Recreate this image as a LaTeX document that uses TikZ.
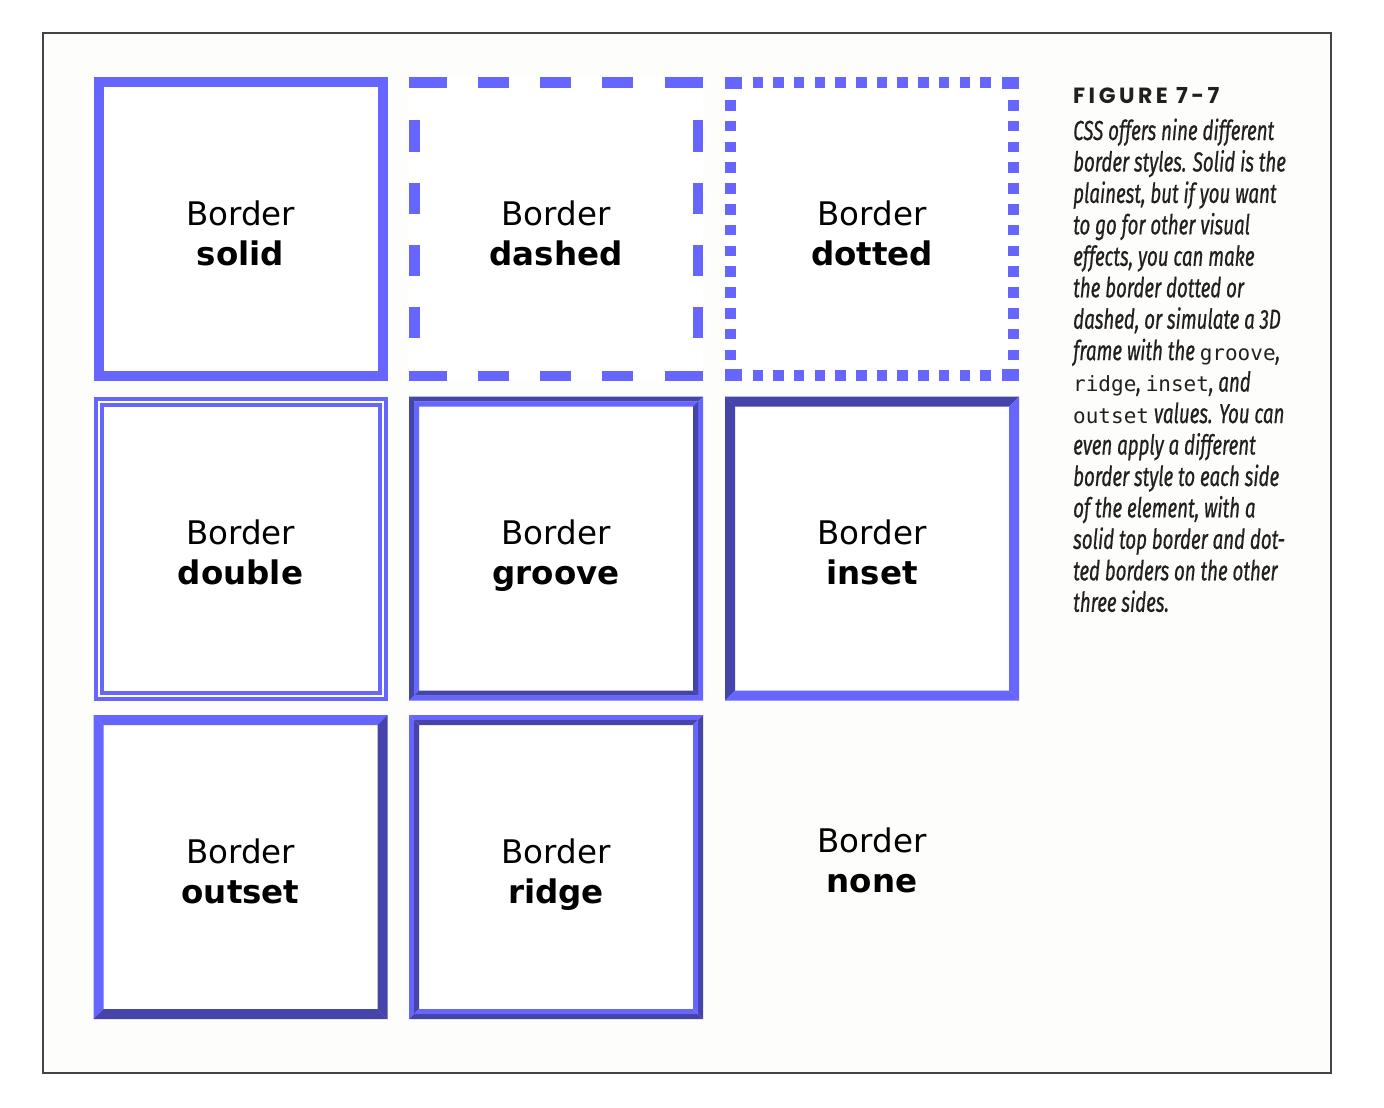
\documentclass[tikz,border=0pt]{standalone}
\usepackage{fontspec}
\setmainfont{DejaVu Sans}
\newfontfamily\capfont{Fira Sans}[FakeStretch=0.68,FakeBold=0.6]
\newfontfamily\figfont{Poppins}[LetterSpace=16]
\newfontfamily\cmono{DejaVu Sans Mono}
\usetikzlibrary{calc}
\definecolor{bl}{RGB}{102,102,255}
\definecolor{bd}{RGB}{68,68,170}
\definecolor{paper}{RGB}{253,253,251}
\definecolor{framec}{RGB}{68,68,68}
\definecolor{ink}{RGB}{35,31,32}
\newcommand\mw[1]{{\cmono\upshape\fontsize{21}{31.45}\selectfont #1}}
\newcommand\bevbox[6]{%
  \fill[#5] (#1,#1) -- ({#3-#1},#1) -- ({#3-#1-#2},{#1+#2}) -- ({#1+#2},{#1+#2}) -- cycle;
  \fill[#5] (#1,#1) -- ({#1+#2},{#1+#2}) -- ({#1+#2},{#4-#1-#2}) -- (#1,{#4-#1}) -- cycle;
  \fill[#6] (#1,{#4-#1}) -- ({#3-#1},{#4-#1}) -- ({#3-#1-#2},{#4-#1-#2}) -- ({#1+#2},{#4-#1-#2}) -- cycle;
  \fill[#6] ({#3-#1},#1) -- ({#3-#1},{#4-#1}) -- ({#3-#1-#2},{#4-#1-#2}) -- ({#3-#1-#2},{#1+#2}) -- cycle;
}
\begin{document}
\begin{tikzpicture}[x=1pt,y=-1pt,
  cell/.style={rectangle, minimum width=294pt, minimum height=304pt, inner sep=0pt, outer sep=0pt},
  wcell/.style={cell, fill=white},
  word/.style={anchor=base, inner sep=0pt, font=\fontsize{32.5}{40}\selectfont},
  bword/.style={anchor=base, inner sep=0pt, font=\fontsize{32.5}{40}\selectfont\bfseries},
  capline/.style={anchor=base west, inner sep=0pt, text=ink, font=\capfont\itshape\fontsize{27.5}{31.45}\selectfont},
]
\useasboundingbox (0,0) rectangle (1384,1108);
\fill[white] (0,0) rectangle (1384,1108);
\node[draw=framec, line width=2pt, fill=paper, minimum width=1288pt, minimum height=1040pt, inner sep=0pt, anchor=north west] (frame) at (42,32) {};

% cells
\node[wcell] (solid)  at (240.5,229) {};
\node[wcell] (dashed) at (556,229) {};
\node[wcell] (dotted) at (872,229) {};
\node[wcell] (double) at (240.5,548.5) {};
\node[wcell] (groove) at (556,548.5) {};
\node[wcell] (inset)  at (872,548.5) {};
\node[wcell] (outset) at (240.5,867) {};
\node[wcell] (ridge)  at (556,867) {};
\node[cell] (none)   at (872,867) {};

% solid
\begin{scope}[shift={(solid.north west)}]
  \draw[bl, line width=10pt] (5,5) rectangle (289,299);
\end{scope}
% dashed
\begin{scope}[shift={(dashed.north west)}]
  \foreach \a/\b in {0/38,69/100,131/162,193/224,256/294}{
    \fill[bl] (\a,0) rectangle (\b,10.5);
    \fill[bl] (\a,293.5) rectangle (\b,304);
  }
  \foreach \a/\b in {43/75,106/137,168/199,230/261}{
    \fill[bl] (0,\a) rectangle (10.5,\b);
    \fill[bl] (283.5,\a) rectangle (294,\b);
  }
\end{scope}
% dotted
\begin{scope}[shift={(dotted.north west)}]
  \fill[bl] (0,0) rectangle (17,12);
  \fill[bl] (277,0) rectangle (294,12);
  \fill[bl] (0,292) rectangle (17,304);
  \fill[bl] (277,292) rectangle (294,304);
  \foreach \k in {0,...,11}{
    \fill[bl] ({27.5+20.7*\k},0) rectangle ({38+20.7*\k},11);
    \fill[bl] ({27.5+20.7*\k},293) rectangle ({38+20.7*\k},304);
  }
  \foreach \k in {0,...,12}{
    \fill[bl] (0,{23+20.8*\k}) rectangle (11,{33.5+20.8*\k});
    \fill[bl] (283,{23+20.8*\k}) rectangle (294,{33.5+20.8*\k});
  }
\end{scope}
% double
\begin{scope}[shift={(double.north west)}]
  \draw[bl, line width=4pt] (2,2) rectangle (292,302);
  \draw[bl, line width=4pt] (8,8) rectangle (286,296);
\end{scope}
% groove
\begin{scope}[shift={(groove.north west)}]
  \bevbox{0}{5}{294}{304}{bd}{bl}
  \bevbox{5}{5}{294}{304}{bl}{bd}
\end{scope}
% inset
\begin{scope}[shift={(inset.north west)}]
  \bevbox{0}{10}{294}{304}{bd}{bl}
\end{scope}
% outset
\begin{scope}[shift={(outset.north west)}]
  \bevbox{0}{10}{294}{304}{bl}{bd}
\end{scope}
% ridge
\begin{scope}[shift={(ridge.north west)}]
  \bevbox{0}{5}{294}{304}{bl}{bd}
  \bevbox{5}{5}{294}{304}{bd}{bl}
\end{scope}

% labels
\foreach \n in {solid,dashed,dotted,double,groove,inset,outset,ridge}{
  \node[word] (\n-a) at ([yshift=4pt]\n.center) {Border};
  \node[bword] (\n-b) at ([yshift=-36pt]\n.center) {\n};
}
\node[word] (none-a) at ([yshift=15pt]none.center) {Border};
\node[bword] (none-b) at ([yshift=-25pt]none.center) {none};

% caption
\node[anchor=base west, inner sep=0pt, text=ink, font=\figfont\bfseries\fontsize{22}{22}\selectfont] (fig) at (1073,103.3) {FIGURE 7-7};
\foreach \t [count=\i from 0] in {%
  {CSS offers nine different},
  {border styles. Solid is the},
  {plainest, but if you want},
  {to go for other visual},
  {effects, you can make},
  {the border dotted or},
  {dashed, or simulate a 3D},
  {frame with the \mw{groove},},
  {\mw{ridge}, \mw{inset}, and},
  {\mw{outset} values. You can},
  {even apply a different},
  {border style to each side},
  {of the element, with a},
  {solid top border and dot-},
  {ted borders on the other},
  {three sides.}}{
  \node[capline] (cap-\i) at (1073,{140+31.45*\i}) {\t};
}
\end{tikzpicture}
\end{document}
